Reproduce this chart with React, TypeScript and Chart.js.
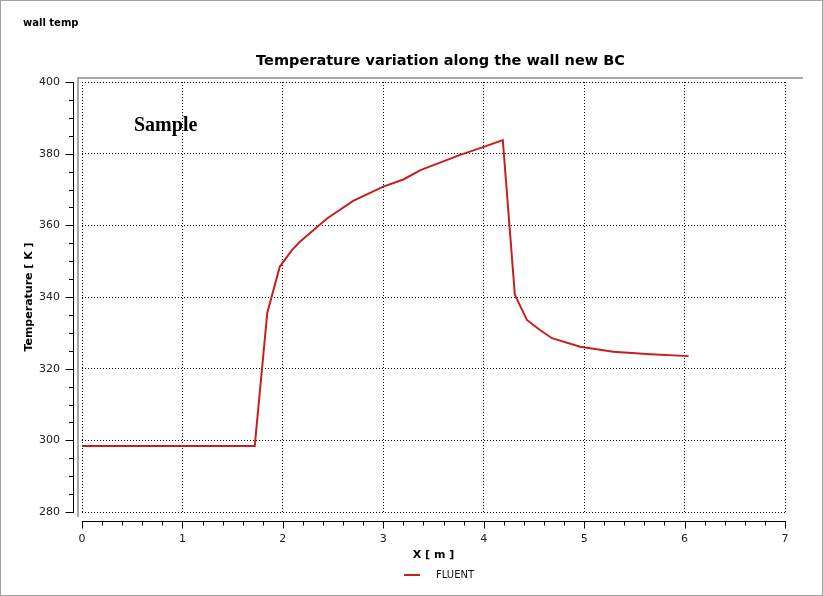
import React, { useEffect, useRef } from "react"
import { Chart, registerables } from "chart.js"

Chart.register(...registerables)

// wall position [m] and temperature [K]
const xPositions = [0, 1.72, 1.845, 1.97, 2.09, 2.17, 2.44, 2.7, 3.0, 3.2, 3.37, 3.76, 4.0, 4.19, 4.31, 4.43, 4.56, 4.68, 4.96, 5.29, 5.66, 6.04]
const temperatures = [298.4, 298.4, 335.6, 348.5, 353.1, 355.4, 361.9, 366.8, 370.8, 372.8, 375.4, 379.6, 381.9, 383.8, 340.6, 333.6, 330.8, 328.5, 326.1, 324.7, 324.0, 323.5]

const seriesLabel = "FLUENT"
const chartTitle = "Temperature variation along the wall new BC"
const panelName = "wall temp"
const watermark = "Sample"

const xRange = { min: 0, max: 7, step: 1, minor: 0.2 }
const yRange = { min: 280, max: 400, step: 20, minor: 5 }

const FONT = "'DejaVu Sans', sans-serif"
const LINE_RED = "#c81e1e"

// draws the offset axes, frame, titles and legend
const decorations = {
  id: "decorations",
  afterDraw(chart: any) {
    const { ctx, chartArea: a, scales } = chart
    const xs = scales.x
    const ys = scales.y
    ctx.save()

    // outer image border
    ctx.strokeStyle = "#a0a0a0"
    ctx.lineWidth = 1
    ctx.strokeRect(0.5, 0.5, chart.width - 1, chart.height - 1)

    // grey L-shaped frame
    ctx.strokeStyle = "#a8a8a8"
    ctx.lineWidth = 2
    ctx.beginPath()
    ctx.moveTo(a.left - 4, a.bottom + 5)
    ctx.lineTo(a.left - 4, a.top - 4)
    ctx.lineTo(a.right + 18, a.top - 4)
    ctx.stroke()

    // y axis
    ctx.strokeStyle = "#000"
    ctx.lineWidth = 1
    const yx = Math.round(a.left - 9) + 0.5
    ctx.beginPath()
    ctx.moveTo(yx, Math.round(ys.getPixelForValue(yRange.max)))
    ctx.lineTo(yx, Math.round(ys.getPixelForValue(yRange.min)) + 1)
    for (let v = yRange.min; v <= yRange.max + 1e-6; v += yRange.minor) {
      const py = Math.round(ys.getPixelForValue(v)) + 0.5
      const major = Math.abs(v / yRange.step - Math.round(v / yRange.step)) < 1e-6
      ctx.moveTo(yx, py)
      ctx.lineTo(yx - (major ? 8 : 4.5), py)
    }
    ctx.stroke()

    // x axis
    const xy = Math.round(a.bottom + 9) + 0.5
    ctx.beginPath()
    ctx.moveTo(Math.round(xs.getPixelForValue(xRange.min)), xy)
    ctx.lineTo(Math.round(xs.getPixelForValue(xRange.max)) + 1, xy)
    for (let i = 0; i <= Math.round((xRange.max - xRange.min) / xRange.minor); i++) {
      const v = xRange.min + i * xRange.minor
      const px = Math.round(xs.getPixelForValue(v)) + 0.5
      const major = i % Math.round(xRange.step / xRange.minor) === 0
      ctx.moveTo(px, xy)
      ctx.lineTo(px, xy + (major ? 7 : 4))
    }
    ctx.stroke()

    // texts
    ctx.fillStyle = "#000"
    ctx.textBaseline = "middle"
    ctx.textAlign = "left"
    ctx.font = `bold 10px ${FONT}`
    ctx.fillText(panelName, 23, 23)

    ctx.textAlign = "center"
    ctx.font = `bold 14.5px ${FONT}`
    ctx.fillText(chartTitle, (a.left - 4 + a.right + 18) / 2, 61)

    ctx.textAlign = "left"
    ctx.textBaseline = "alphabetic"
    ctx.font = "bold 20px 'Liberation Serif', serif"
    ctx.fillText(watermark, 134, 131)

    // legend
    const ds = chart.data.datasets[0]
    const ly = 575
    ctx.strokeStyle = ds.borderColor
    ctx.lineWidth = 2
    ctx.beginPath()
    ctx.moveTo(404, ly)
    ctx.lineTo(420, ly)
    ctx.stroke()
    ctx.fillStyle = "#111"
    ctx.textBaseline = "middle"
    ctx.font = `10px ${FONT}`
    ctx.fillText(ds.label, 436, ly)

    ctx.restore()
  },
}

export default function App() {
  const canvasRef = useRef<HTMLCanvasElement>(null)

  useEffect(() => {
    if (!canvasRef.current) return
    const points = xPositions.map((x, i) => ({ x, y: temperatures[i] }))

    const chart = new Chart(canvasRef.current, {
      type: "line",
      data: {
        datasets: [
          {
            label: seriesLabel,
            data: points,
            borderColor: LINE_RED,
            borderWidth: 2,
            pointRadius: 0,
            tension: 0,
            fill: false,
          },
        ],
      },
      options: {
        animation: false,
        responsive: false,
        devicePixelRatio: 1,
        layout: { padding: { left: 0, right: 38, top: 82, bottom: 0 } },
        scales: {
          x: {
            type: "linear",
            min: xRange.min,
            max: xRange.max,
            ticks: { stepSize: xRange.step, padding: 21, color: "#222", font: { family: FONT, size: 11 } },
            grid: { color: "#000", lineWidth: 1, drawTicks: false },
            border: { display: false, dash: [1, 2] },
            title: {
              display: true,
              text: "X [ m ]",
              color: "#000",
              font: { family: FONT, size: 11, weight: "bold" },
              padding: { top: 0, bottom: 34 },
            },
            afterFit: (s: any) => {
              s.height = 84
            },
          },
          y: {
            type: "linear",
            min: yRange.min,
            max: yRange.max,
            ticks: { stepSize: yRange.step, padding: 22, color: "#222", font: { family: FONT, size: 11 } },
            grid: { color: "#000", lineWidth: 1, drawTicks: false },
            border: { display: false, dash: [1, 2] },
            title: {
              display: true,
              text: "Temperature [ K ]",
              color: "#000",
              font: { family: FONT, size: 11, weight: "bold" },
              padding: { top: 23, bottom: 0 },
            },
            afterFit: (s: any) => {
              s.width = 82
            },
          },
        },
        plugins: {
          legend: { display: false },
          tooltip: { enabled: false },
        },
      },
      plugins: [decorations],
    })

    return () => chart.destroy()
  }, [])

  return (
    <div style={{ position: "absolute", left: 0, top: 0, width: 823, height: 596, background: "#fff" }}>
      <canvas ref={canvasRef} width={823} height={596} />
    </div>
  )
}
